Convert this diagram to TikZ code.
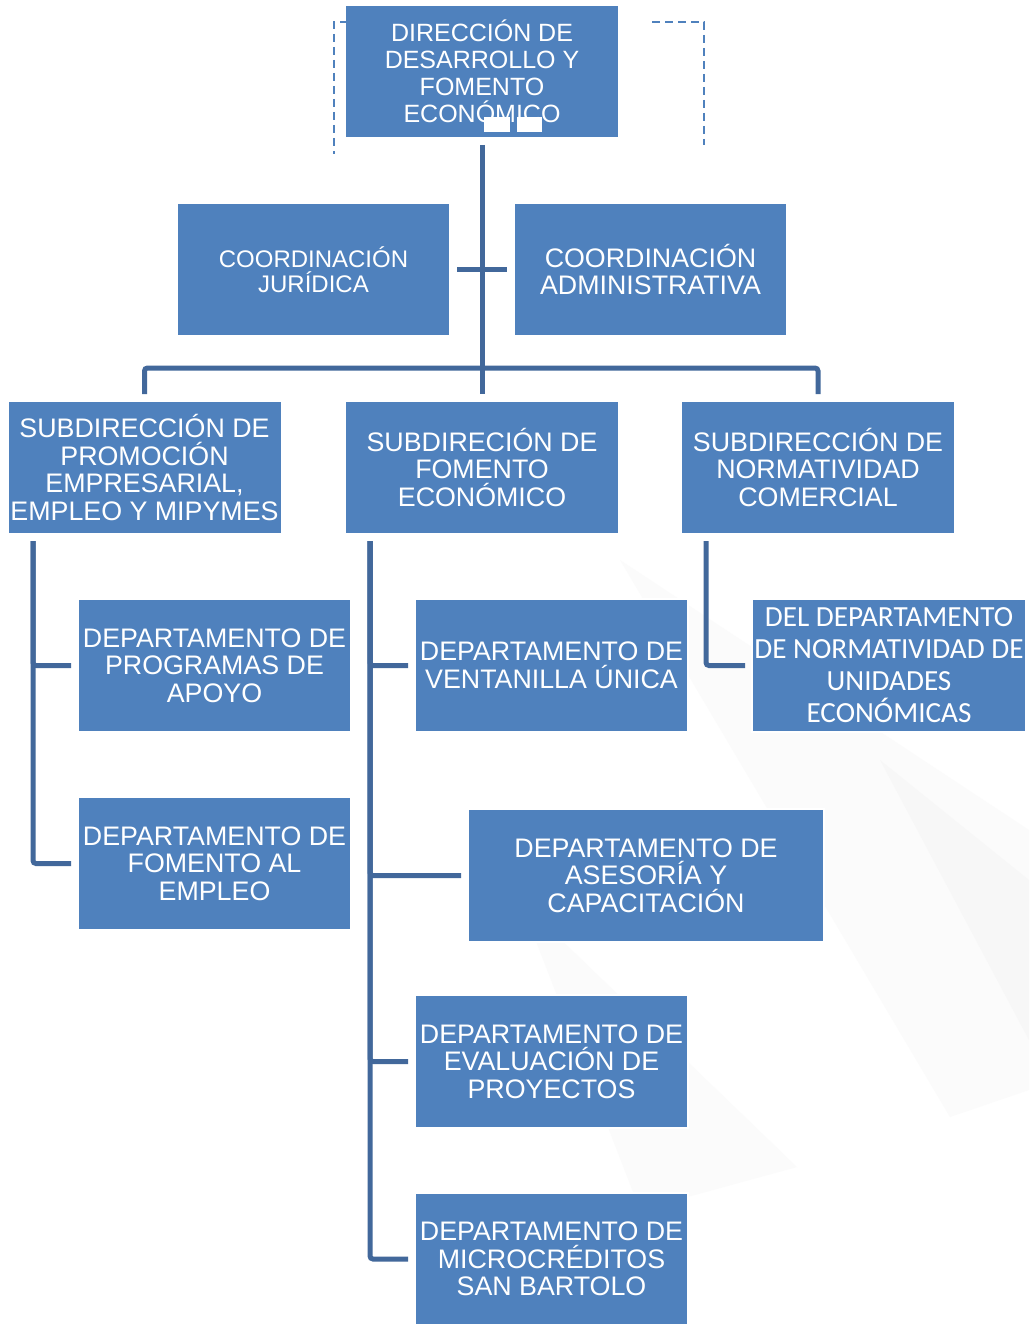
\documentclass[tikz,border=0pt]{standalone}
\usepackage{fontspec}
\setmainfont{Liberation Sans}
\newfontfamily\calibrifont{Carlito}
\usepackage{xcolor}
\usepackage{tikz}
\usetikzlibrary{positioning}

\definecolor{unitblue}{RGB}{79,129,189}
\definecolor{linkblue}{RGB}{66,104,155}

\begin{document}
\begin{tikzpicture}[
x=1pt, y=-1pt,
unit/.style={
rectangle,
fill=unitblue,
draw=white,
line width=2pt,
minimum width=274pt,
minimum height=133pt,
inner sep=0pt,
text=white,
align=center,
font=\fontsize{26.8}{27.6}\selectfont
},
link/.style={draw=linkblue, line width=5pt, rounded corners=3pt,
shorten <=6pt, shorten >=6pt}
]

\useasboundingbox (0,0) rectangle (1029,1324);

% soft background
\fill[white] (0,0) rectangle (1029,1324);
\fill[gray!3] (620,560) -- (1029,830) -- (1029,1090) -- (950,1117) -- cycle;
\fill[gray!6] (880,760) -- (1029,880) -- (1029,1040) -- cycle;
\fill[gray!3] (520,900) -- (797,1167) -- (640,1210) -- cycle;

% Direction
\node[unit, font=\fontsize{25}{27}\selectfont] (dir) at (482,71.5)
{DIRECCIÓN DE\\DESARROLLO Y\\FOMENTO\\ECONÓMICO};
\fill[white] (484,117) rectangle (510,132);
\fill[white] (517,117) rectangle (542,132);

% dashed frame
\draw[unitblue, line width=1.5pt, dash pattern=on 8pt off 5pt]
([xshift=30pt,yshift=-18pt]dir.north west) -| ([xshift=-10pt,yshift=-150pt]dir.north west)
([xshift=32pt,yshift=-18pt]dir.north east) -| ([xshift=84pt,yshift=-141pt]dir.north east);

% Coordinations
\node[unit, minimum width=273pt, font=\fontsize{24}{25}\selectfont] (cj) at (313.5,269.5)
{COORDINACIÓN\\JURÍDICA};
\node[unit, minimum width=273pt] (ca) at (650.5,269.5)
{COORDINACIÓN\\ADMINISTRATIVA};

% Subdirections
\node[unit] (spe) at (144.5,467.5)
{SUBDIRECCIÓN DE\\PROMOCIÓN\\EMPRESARIAL,\\EMPLEO Y MIPYMES};
\node[unit] (sfe) at (482,467.5)
{SUBDIRECIÓN DE\\FOMENTO\\ECONÓMICO};
\node[unit] (snc) at (818,467.5)
{SUBDIRECCIÓN DE\\NORMATIVIDAD\\COMERCIAL};

% Departments
\node[unit, minimum width=273pt] (dpa) at (214.5,665.5)
{DEPARTAMENTO DE\\PROGRAMAS DE\\APOYO};
\node[unit, minimum width=273pt] (dfe) at (214.5,863.5)
{DEPARTAMENTO DE\\FOMENTO AL\\EMPLEO};
\node[unit, minimum width=273pt] (dvu) at (551.5,665.5)
{DEPARTAMENTO DE\\VENTANILLA ÚNICA};
\node[unit, minimum width=356pt] (dac) at (646,875.5)
{DEPARTAMENTO DE\\ASESORÍA Y\\CAPACITACIÓN};
\node[unit, minimum width=273pt] (dep) at (551.5,1061.5)
{DEPARTAMENTO DE\\EVALUACIÓN DE\\PROYECTOS};
\node[unit, minimum width=273pt] (dms) at (551.5,1259)
{DEPARTAMENTO DE\\MICROCRÉDITOS\\SAN BARTOLO};
\node[unit, font=\calibrifont\fontsize{29.2}{32}\selectfont] (dnu) at (889,665.5)
{DEL DEPARTAMENTO\\DE NORMATIVIDAD DE\\UNIDADES\\ECONÓMICAS};

% Lines
\coordinate (bar) at (482,368);
\draw[link] (dir) -- (sfe);
\draw[link] (cj) -- (ca);
\draw[link] (spe) |- (bar) -| (snc);

\draw[link] ([xshift=-111.5pt]spe.south) |- (dpa);
\draw[link] ([xshift=-111.5pt]spe.south) |- (dfe);
\foreach \dept in {dvu,dac,dep,dms}
\draw[link] ([xshift=-112pt]sfe.south) |- (\dept);
\draw[link] ([xshift=-112pt]snc.south) |- (dnu);

\end{tikzpicture}
\end{document}
